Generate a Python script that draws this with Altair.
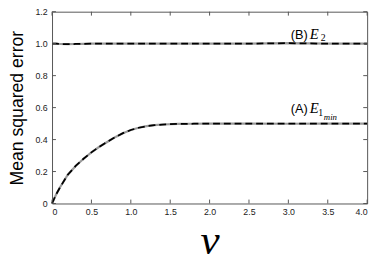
import altair as alt
import pandas as pd

# ---- data ----
v = [0, 0.05, 0.1, 0.2, 0.3, 0.4, 0.5, 0.6, 0.7, 0.8, 0.9, 1.0, 1.1, 1.2, 1.3,
     1.4, 1.6, 1.8, 2.0, 2.5, 3.0, 3.5, 4.0]
e1_min = [0, 0.055, 0.1, 0.18, 0.235, 0.28, 0.32, 0.355, 0.385, 0.415, 0.44, 0.46,
          0.474, 0.484, 0.49, 0.494, 0.498, 0.499, 0.5, 0.5, 0.499, 0.5, 0.5]
e2 = [1.0, 1.0, 0.998, 0.997, 0.998, 0.999, 1.0, 1.0, 1.0, 1.0, 1.0, 1.0,
      1.0, 1.0, 1.0, 1.0, 1.0, 1.0, 1.0, 1.0, 1.003, 1.0, 1.0]

x_ticks = [0, 0.5, 1.0, 1.5, 2.0, 2.5, 3.0, 3.5, 4.0]
y_ticks = [0, 0.2, 0.4, 0.6, 0.8, 1.0, 1.2]

# annotation labels
lab_text = ["(B)", "(A)"]
lab_v = [3.03, 3.03]
lab_y = [1.032, 0.564]
sym_text = ["E", "E"]
sym_v = [3.27, 3.27]
sym_y = [1.032, 0.564]
sub_text = ["2", "1"]
sub_v = [3.41, 3.38]
sub_y = [1.017, 0.548]
subsub_text = ["min"]
subsub_v = [3.45]
subsub_y = [0.52]

W, H = 322, 196

df = pd.concat([
    pd.DataFrame({"v": v, "mse": e1_min, "series": "E1min"}),
    pd.DataFrame({"v": v, "mse": e2, "series": "E2"}),
])

xs = alt.Scale(domain=[0, 4], nice=False)
ys = alt.Scale(domain=[0, 1.2], nice=False)

xax = alt.Axis(values=x_ticks, tickSize=0, domain=False, grid=False, labelOverlap=False,
               labelExpr="datum.value == 0 ? '0' : format(datum.value, '.1f')",
               labelFont="Liberation Sans", labelFontSize=9, labelColor="#222",
               labelPadding=4, title="v", titleFont="Liberation Serif",
               titleFontStyle="italic", titleFontWeight="normal", titleFontSize=44,
               titleColor="#000", titlePadding=3)
yax = alt.Axis(values=y_ticks, tickSize=0, domain=False, grid=False, labelOverlap=False,
               labelExpr="datum.value == 0 ? '0' : format(datum.value, '.1f')",
               labelFont="Liberation Sans", labelFontSize=9, labelColor="#222",
               labelPadding=5, title="Mean squared error",
               titleFont="Liberation Sans", titleFontWeight="normal",
               titleFontSize=18, titleColor="#000", titlePadding=9)

X = lambda f: alt.X(f, scale=xs, axis=xax)
Y = lambda f: alt.Y(f, scale=ys, axis=yax)

base = alt.Chart(df)
gray = base.mark_line(color="#9a9a9a", strokeWidth=2.2).encode(
    x=X("v:Q"), y=Y("mse:Q"), detail="series:N")
dash = base.mark_line(color="#000", strokeWidth=1.8, strokeDash=[7, 4]).encode(
    x=X("v:Q"), y=Y("mse:Q"), detail="series:N")

xt = pd.DataFrame({"t": x_ticks})
yt = pd.DataFrame({"t": y_ticks})
tick_col = "#555"
tb = alt.Chart(xt).mark_rule(color=tick_col, strokeWidth=1).encode(
    x=X("t:Q"), y=alt.value(H), y2=alt.value(H - 4))
tt = alt.Chart(xt).mark_rule(color=tick_col, strokeWidth=1).encode(
    x=X("t:Q"), y=alt.value(0), y2=alt.value(4))
tl = alt.Chart(yt).mark_rule(color=tick_col, strokeWidth=1).encode(
    y=Y("t:Q"), x=alt.value(0), x2=alt.value(4))
tr = alt.Chart(yt).mark_rule(color=tick_col, strokeWidth=1).encode(
    y=Y("t:Q"), x=alt.value(W - 4), x2=alt.value(W))

def txt(texts, vs, yvals, **kw):
    return alt.Chart(pd.DataFrame({"t": texts, "v": vs, "y": yvals})).mark_text(
        align="left", baseline="alphabetic", color="#000", **kw
    ).encode(x=X("v:Q"), y=Y("y:Q"), text="t:N")

lab = txt(lab_text, lab_v, lab_y, font="Liberation Sans", fontSize=13)
sym = txt(sym_text, sym_v, sym_y, font="Liberation Serif", fontStyle="italic", fontSize=15)
sub = txt(sub_text, sub_v, sub_y, font="Liberation Serif", fontSize=10)
subsub = txt(subsub_text, subsub_v, subsub_y, font="Liberation Serif",
             fontStyle="italic", fontSize=9)

chart = alt.layer(gray, dash, tb, tt, tl, tr, lab, sym, sub, subsub).properties(
    width=W, height=H,
    autosize=alt.AutoSizeParams(type="none"),
    padding={"left": 45, "top": 1, "right": 7, "bottom": 57},
    background="white",
).configure_view(stroke="#555", strokeWidth=1)

chart.save("out.html", embed_options={"renderer": "svg", "actions": False})
